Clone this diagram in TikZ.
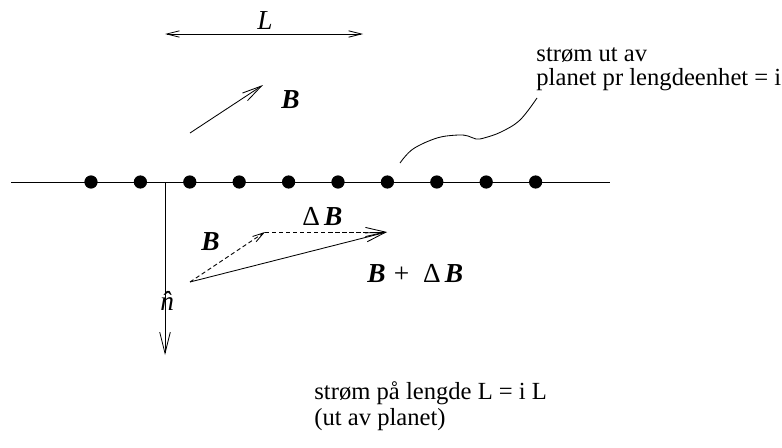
\documentclass[tikz,border=0pt]{standalone}
\usepackage{fontspec}
\setmainfont{Liberation Serif}
\usetikzlibrary{arrows.meta}
\definecolor{cink}{HTML}{000000}

\begin{document}
\begin{tikzpicture}[x=0.025cm, y=-0.025cm, line width=0.6pt, cink,
  font=\fontsize{17.5}{21}\selectfont,
  wire/.style={circle, fill=cink, inner sep=0pt, minimum size=9.4pt},
  vec/.style={-{Straight Barb[length=14pt, width=6.5pt]}},
  smallvec/.style={-{Straight Barb[length=8pt, width=4.5pt]}},
  dashvec/.style={dash pattern=on 3pt off 2pt},
  lbl/.style={anchor=base west, inner sep=0pt, font=\fontsize{19.5}{23}\selectfont},
  bvec/.style={lbl, font=\fontsize{19.5}{23}\selectfont\bfseries\itshape}]
\useasboundingbox (0,0) rectangle (782,447);
\clip (0,0) rectangle (782,447);
%% the plane seen edge on, with the wires in it
\coordinate (left) at (11,182);
\coordinate (right) at (610,182);
\draw (left) -- (right);
\foreach \k in {0,...,9}
  \node[wire] (w\k) at ({91+49.4*\k},182) {};
% normal vector
\coordinate (nfoot) at (165,182);
\coordinate (ntip) at (165,355);
\draw[-{Straight Barb[length=15pt, width=7.5pt]}] (nfoot) -- (ntip);
\node[lbl] (nhat) at (160,310) {\itshape\^n};
% the length L
\coordinate (La) at (165,34);
\coordinate (Lb) at (363,34);
\draw[{Straight Barb[length=9pt, width=4.5pt]}-{Straight Barb[length=9pt, width=4.5pt]}] (La) -- (Lb);
\node[lbl] (lblL) at (257,29) {\itshape L};
% field above the plane
\coordinate (Ba) at (190,133);
\coordinate (Bb) at (263,85);
\draw[vec] (Ba) -- (Bb);
\node[bvec] (lblB) at (281,108) {B};
%% field below the plane: B, Delta B and their sum
\coordinate (O) at (190,282);
\coordinate (P) at (265,232);
\coordinate (Q) at (387,232);
\draw[smallvec, dashvec] (O) -- (P);
\draw[vec, dashvec] (P) -- (Q);
\draw[vec] (O) -- (Q);
\node[bvec] (lblB2) at (201,250) {B};
\node[lbl] (lblDB) at (302,225) {Δ\hspace{0.15em}\textbf{\textit{B}}};
\node[lbl] (lblSum) at (367,282) {\textbf{\textit{B}}\hspace{0.3em}+\hspace{0.5em}Δ\hspace{0.15em}\textbf{\textit{B}}};
%% leader to the text on the right
\draw plot[smooth, tension=0.6] coordinates {(400,163) (413,149) (437,138) (458,135) (468,136) (476,139) (484,138) (501,132) (520,120) (537,98)};
\node[anchor=base west, inner sep=0pt] (txtOut) at (536,61) {strøm ut av};
\node[anchor=base west, inner sep=0pt] (txtOut2) at (536,85) {planet pr lengdeenhet = i};
\node[anchor=base west, inner sep=0pt] (txtL) at (314,399) {strøm på lengde L = i L};
\node[anchor=base west, inner sep=0pt] (txtL2) at (314,425) {(ut av planet)};
\end{tikzpicture}
\end{document}
